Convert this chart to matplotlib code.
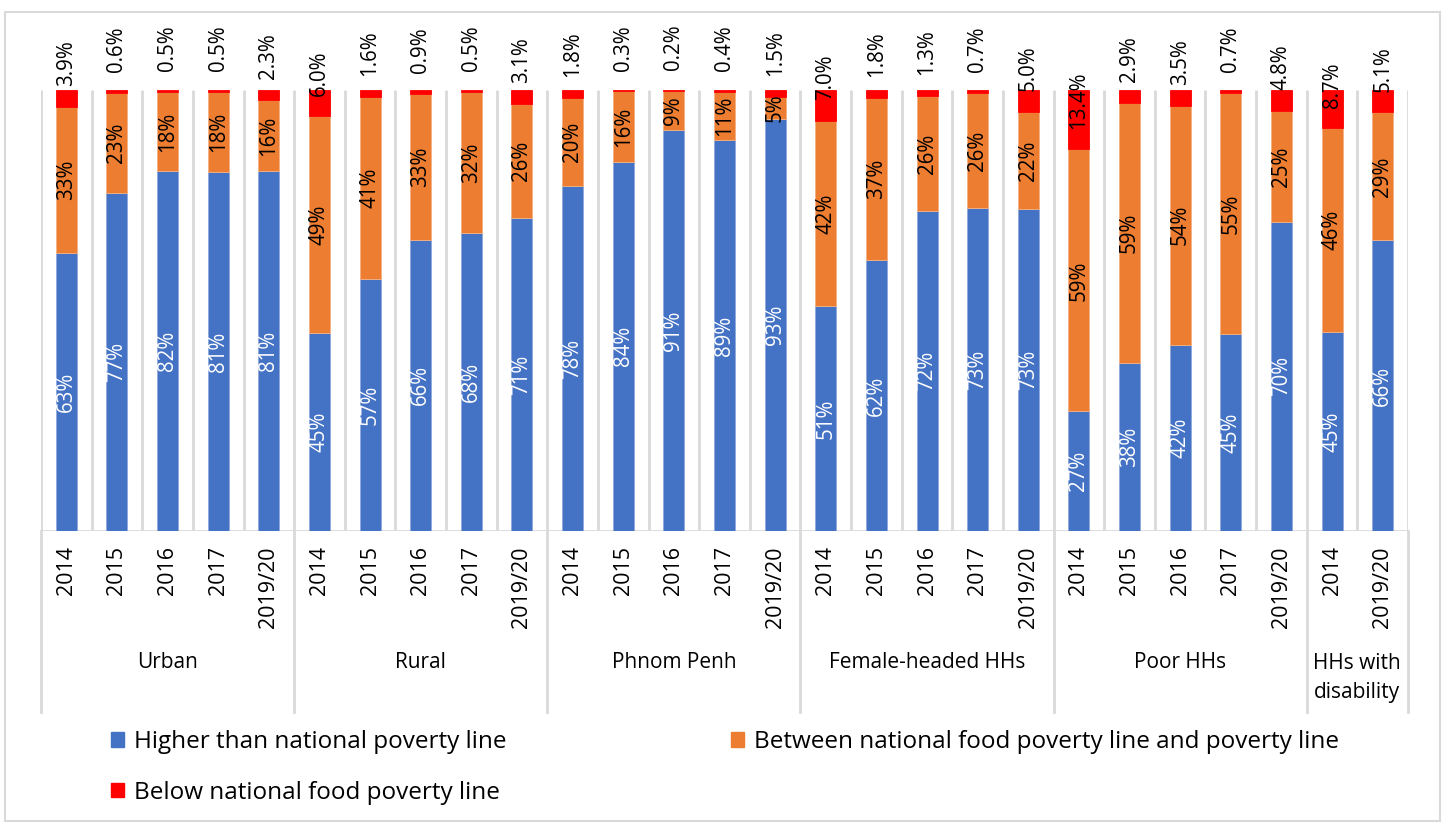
import matplotlib.pyplot as plt
from matplotlib.patches import Patch, Rectangle
from matplotlib.lines import Line2D
from matplotlib.transforms import blended_transform_factory
import numpy as np

plt.rcParams['font.family'] = ['Open Sans', 'DejaVu Sans']

groups = ['Urban', 'Rural', 'Phnom Penh', 'Female-headed HHs', 'Poor HHs', 'HHs with\ndisability']
years = [['2014', '2015', '2016', '2017', '2019/20']] * 5 + [['2014', '2019/20']]

higher = [63, 77, 82, 81, 81,
          45, 57, 66, 68, 71,
          78, 84, 91, 89, 93,
          51, 62, 72, 73, 73,
          27, 38, 42, 45, 70,
          45, 66]
between = [33, 23, 18, 18, 16,
           49, 41, 33, 32, 26,
           20, 16, 9, 11, 5,
           42, 37, 26, 26, 22,
           59, 59, 54, 55, 25,
           46, 29]
below = [3.9, 0.6, 0.5, 0.5, 2.3,
         6.0, 1.6, 0.9, 0.5, 3.1,
         1.8, 0.3, 0.2, 0.4, 1.5,
         7.0, 1.8, 1.3, 0.7, 5.0,
         13.4, 2.9, 3.5, 0.7, 4.8,
         8.7, 5.1]

c_blue = '#4472C4'
c_orange = '#ED7D31'
c_red = '#FF0000'
grid_c = '#D9D9D9'

W, H = 1450, 825
fig = plt.figure(figsize=(W / 100, H / 100), dpi=100)
ax = fig.add_axes([41 / W, 1 - 531 / H, (1408 - 41) / W, (531 - 90) / H])

h = np.array(higher, float)
b = np.array(between, float)
r = np.array(below, float)
tot = h + b + r
hn, bn, rn = h / tot * 100, b / tot * 100, r / tot * 100
x = np.arange(len(h))
bw = 0.415

ax.bar(x, hn, bw, color=c_blue, edgecolor='#8FAADC', linewidth=0.6, zorder=3)
ax.bar(x, bn, bw, bottom=hn, color=c_orange, edgecolor='#F4B183', linewidth=0.6, zorder=3)
ax.bar(x, rn, bw, bottom=hn + bn, color=c_red, edgecolor=c_red, linewidth=0.6, zorder=3)

fs = 14.8
for i in x:
    ax.text(i, hn[i] / 2, f'{higher[i]:.0f}%', rotation=90, ha='center', va='center',
            color='white', fontsize=fs, zorder=5)
    ax.text(i, hn[i] + bn[i] / 2, f'{between[i]:.0f}%', rotation=90, ha='center', va='center',
            color='black', fontsize=fs, zorder=5)
    ax.text(i, hn[i] + bn[i] + 4.7, f'{below[i]:.1f}%', rotation=90, ha='center', va='bottom',
            color='black', fontsize=fs, zorder=5)

ax.set_xlim(-0.5, len(h) - 0.5)
ax.set_ylim(0, 100)
ax.vlines(np.arange(len(h) + 1) - 0.5, 0, 100, color=grid_c, linewidth=2, zorder=1)
for s in ax.spines.values():
    s.set_visible(False)
ax.axhline(0, color=grid_c, linewidth=2, zorder=2)
ax.set_yticks([])

ticks = [y for g in years for y in g]
ax.set_xticks(x)
ax.set_xticklabels(ticks, rotation=90, fontsize=15.5, va='top')
ax.tick_params(axis='x', length=0, pad=11)

# group labels and separators below the axis
tr = blended_transform_factory(ax.transData, fig.transFigure)
start = 0
bounds = [-0.5]
for g, yrs in zip(groups, years):
    n = len(yrs)
    mid = start + (n - 1) / 2
    ypos = 1 - 678 / H if '\n' in g else 1 - 663 / H
    ax.text(mid, ypos, g, transform=tr, ha='center', va='center', fontsize=15,
            linespacing=1.45, color='black')
    start += n
    bounds.append(start - 0.5)
for bx in bounds:
    ax.add_line(Line2D([bx, bx], [1 - 531 / H, 1 - 712 / H], transform=tr, color=grid_c,
                       linewidth=2, clip_on=False))

# legend
leg_kw = dict(frameon=False, fontsize=17.5, handlelength=0.55, handleheight=0.55,
              handletextpad=0.4, labelspacing=1.1, borderpad=0, borderaxespad=0)
leg1 = fig.legend(handles=[Patch(color=c_blue, label='Higher than national poverty line'),
                           Patch(color=c_red, label='Below national food poverty line')],
                  loc='upper left', bbox_to_anchor=(111 / W, 1 - 730 / H), **leg_kw)
leg2 = fig.legend(handles=[Patch(color=c_orange, label='Between national food poverty line and poverty line')],
                  loc='upper left', bbox_to_anchor=(731 / W, 1 - 730 / H), **leg_kw)

# chart frame
fig.add_artist(Rectangle((5 / W, 4 / H), 1435 / W, (821 - 12) / H, transform=fig.transFigure,
                         fill=False, edgecolor=grid_c, linewidth=1.5))

fig.savefig('out.png', dpi=100)
